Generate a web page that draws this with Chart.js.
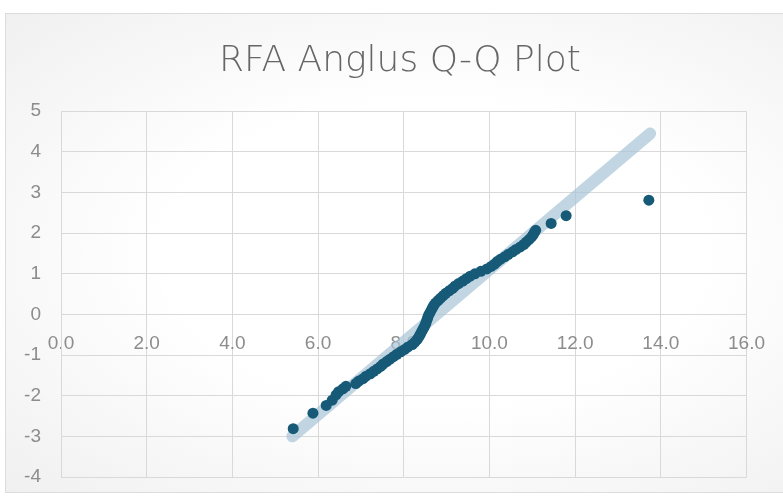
<!DOCTYPE html>
<html>
<head>
<meta charset="utf-8">
<script src="https://cdn.jsdelivr.net/npm/chart.js@4.4.1/dist/chart.umd.min.js"></script>
<style>
  html, body { margin: 0; padding: 0; background: #fff; width: 783px; height: 497px; overflow: hidden; }
  #card {
    position: absolute; left: 5px; top: 13px; width: 778px; height: 480px;
    box-sizing: border-box; border: 1px solid #dcdcdc; border-right: none;
    background: radial-gradient(ellipse at 55% 50%, #ffffff 45%, #f0f0f0 100%);
  }
  #card canvas { display: block; }
</style>
</head>
<body>
<div id="card"><canvas id="qqChart" width="777" height="478"></canvas></div>
<script>
const chartTitle = "RFA Anglus Q-Q Plot";

const qqX = [5.42, 5.88, 6.19, 6.33, 6.42, 6.48, 6.58, 6.65, 6.88, 6.95,
  7.05, 7.12, 7.22, 7.30, 7.38, 7.46, 7.52, 7.60, 7.68, 7.76,
  7.84, 7.93, 8.02, 8.10, 8.20, 8.26, 8.31, 8.35, 8.38, 8.41,
  8.44, 8.47, 8.50, 8.52, 8.54, 8.56, 8.58, 8.61, 8.64, 8.67,
  8.70, 8.74, 8.80, 8.86, 8.92, 8.98, 9.06, 9.14, 9.20, 9.28,
  9.38, 9.46, 9.55, 9.66, 9.80, 9.94, 10.04, 10.12, 10.18, 10.26,
  10.36, 10.44, 10.54, 10.62, 10.72, 10.80, 10.86, 10.92, 10.98, 11.02,
  11.05, 11.08, 11.44, 11.79, 13.72];
const qqY = [-2.81, -2.43, -2.24, -2.11, -1.98, -1.90, -1.83, -1.77, -1.70, -1.64,
  -1.58, -1.52, -1.46, -1.40, -1.34, -1.28, -1.22, -1.16, -1.10, -1.04,
  -0.98, -0.92, -0.86, -0.80, -0.74, -0.68, -0.62, -0.56, -0.50, -0.44,
  -0.38, -0.32, -0.26, -0.20, -0.14, -0.08, -0.02, 0.04, 0.10, 0.16,
  0.22, 0.28, 0.34, 0.40, 0.46, 0.52, 0.58, 0.64, 0.70, 0.76,
  0.82, 0.88, 0.94, 1.00, 1.06, 1.12, 1.18, 1.24, 1.30, 1.36,
  1.42, 1.48, 1.54, 1.60, 1.66, 1.72, 1.78, 1.84, 1.90, 1.96,
  2.02, 2.07, 2.24, 2.43, 2.81];

// reference line
const trendX = [5.4, 13.75];
const trendY = [-3.0, 4.45];

const xTickLabels = ["0.0", "2.0", "4.0", "6.0", "8.0", "10.0", "12.0", "14.0", "16.0"];
const yTickLabels = ["-4", "-3", "-2", "-1", "0", "1", "2", "3", "4", "5"];

const gridColor = "#d9d9d9";
const tickFont = { family: "Liberation Sans", size: 19 };

new Chart(document.getElementById("qqChart"), {
  type: "scatter",
  data: {
    datasets: [
      {
        label: "Q-Q",
        data: qqX.map((x, i) => ({ x: x, y: qqY[i] })),
        backgroundColor: "#165a78",
        borderColor: "#165a78",
        pointRadius: 5.5,
        pointBorderWidth: 0,
        order: 0
      },
      {
        label: "Trend",
        type: "line",
        data: trendX.map((x, i) => ({ x: x, y: trendY[i] })),
        borderColor: "rgba(166, 197, 213, 0.7)",
        borderWidth: 12,
        borderCapStyle: "round",
        pointRadius: 0,
        fill: false,
        order: 1
      }
    ]
  },
  options: {
    responsive: false,
    animation: false,
    layout: { padding: { left: 0, right: -11, top: 0, bottom: 15 } },
    plugins: {
      legend: { display: false },
      tooltip: { enabled: false },
      title: {
        display: true,
        text: chartTitle,
        color: "#666666",
        font: { family: "DejaVu Sans", size: 36, weight: "200" },
        padding: { top: 26, bottom: 28 }
      }
    },
    scales: {
      x: {
        type: "linear",
        position: { y: 0 },
        min: 0,
        max: 16,
        afterFit: (s) => { s.height = 0; },
        ticks: {
          stepSize: 2,
          padding: 18,
          color: "#8c8c8c",
          font: tickFont,
          callback: (v) => xTickLabels[Math.round(v / 2)]
        },
        grid: { color: gridColor, drawTicks: false },
        border: { color: gridColor }
      },
      y: {
        min: -4,
        max: 5,
        afterFit: (s) => { s.width = 55; s.paddingTop = 0; s.paddingBottom = 0; },
        ticks: {
          stepSize: 1,
          padding: 20,
          color: "#8c8c8c",
          font: tickFont,
          callback: (v) => yTickLabels[Math.round(v + 4)]
        },
        grid: { color: gridColor, drawTicks: false },
        border: { color: gridColor }
      },
      // empty right-hand axis, only reserves the right margin
      yRight: {
        position: "right",
        min: -4,
        max: 5,
        afterFit: (s) => { s.width = 45; s.paddingTop = 0; s.paddingBottom = 0; },
        ticks: { display: false },
        grid: { display: false },
        border: { display: false }
      }
    }
  }
});
</script>
</body>
</html>
